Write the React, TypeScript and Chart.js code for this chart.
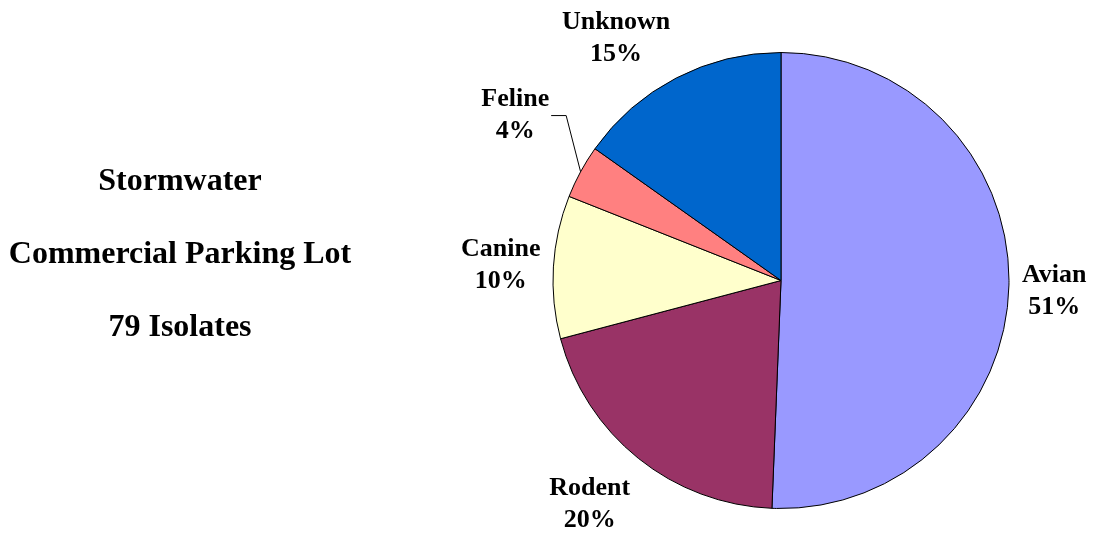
import React, { useEffect, useRef } from "react";
import { Chart, registerables } from "chart.js";

Chart.register(...registerables);

const categories = ["Avian", "Rodent", "Canine", "Feline", "Unknown"];
const isolateCounts = [40, 16, 8, 3, 12];
const sliceColors = ["#9999FF", "#993366", "#FFFFCC", "#FF8080", "#0066CC"];
const titleLines = ["Stormwater", "Commercial Parking Lot", "79 Isolates"];

const FONT = '"Liberation Serif", "Times New Roman", serif';

const clamp = (v: number) => Math.max(-1, Math.min(1, v));

const labelPlugin = {
  id: "pieLabels",
  afterDraw(chart: any) {
    const ctx = chart.ctx as CanvasRenderingContext2D;
    const meta = chart.getDatasetMeta(0);
    const data = chart.data.datasets[0].data as number[];
    const total = data.reduce((a, b) => a + b, 0);
    ctx.save();
    ctx.fillStyle = "#000";
    ctx.textAlign = "center";
    ctx.textBaseline = "middle";

    // left-side title text
    ctx.font = `bold 32px ${FONT}`;
    const titleX = 172;
    const titleY0 = 174;
    titleLines.forEach((t, i) => ctx.fillText(t, titleX, titleY0 + i * 73));

    ctx.font = `bold 26px ${FONT}`;
    const lineH = 32;
    meta.data.forEach((arc: any, i: number) => {
      const { x, y, startAngle, endAngle, outerRadius } = arc.getProps(
        ["x", "y", "startAngle", "endAngle", "outerRadius"],
        true
      );
      const mid = (startAngle + endAngle) / 2;
      const dx = Math.cos(mid);
      const dy = Math.sin(mid);
      const name = categories[i];
      const pct = Math.round((data[i] / total) * 100) + "%";
      const w = Math.max(ctx.measureText(name).width, ctx.measureText(pct).width);
      const h = lineH * 2;
      const small = data[i] / total < 0.06;
      const gap = 13;
      const ax = x + dx * (outerRadius + gap);
      const ay = y + dy * (outerRadius + gap);
      let cx = ax + (w / 2) * clamp(dx / 0.4);
      let cy = ay + (h / 2) * clamp(dy / 0.4) + 4;
      if (small) {
        cx += -20;
        cy += -22;
        const ex = x + dx * outerRadius;
        const ey = y + dy * outerRadius;
        const sx = cx + w / 2 + 2;
        ctx.strokeStyle = "#000";
        ctx.lineWidth = 1;
        ctx.beginPath();
        ctx.moveTo(sx, cy);
        ctx.lineTo(sx + 15, cy);
        ctx.lineTo(ex, ey);
        ctx.stroke();
      }
      ctx.fillText(name, cx, cy - lineH / 2);
      ctx.fillText(pct, cx, cy + lineH / 2);
    });
    ctx.restore();
  },
};

export default function App() {
  const ref = useRef<HTMLCanvasElement>(null);
  useEffect(() => {
    if (!ref.current) return;
    const chart = new Chart(ref.current, {
      type: "pie",
      data: {
        labels: categories,
        datasets: [
          {
            data: isolateCounts,
            backgroundColor: sliceColors,
            borderColor: "#000",
            borderWidth: 1,
            borderAlign: "center",
          },
        ],
      },
      options: {
        animation: false,
        responsive: true,
        maintainAspectRatio: false,
        layout: { padding: { left: 544, right: 78, top: 44, bottom: 19 } },
        plugins: {
          legend: { display: false },
          tooltip: { enabled: false },
          title: { display: false },
        },
      },
      plugins: [labelPlugin],
    });
    return () => chart.destroy();
  }, []);
  return (
    <div style={{ width: 1080, height: 520, position: "relative" }}>
      <canvas ref={ref} />
    </div>
  );
}
